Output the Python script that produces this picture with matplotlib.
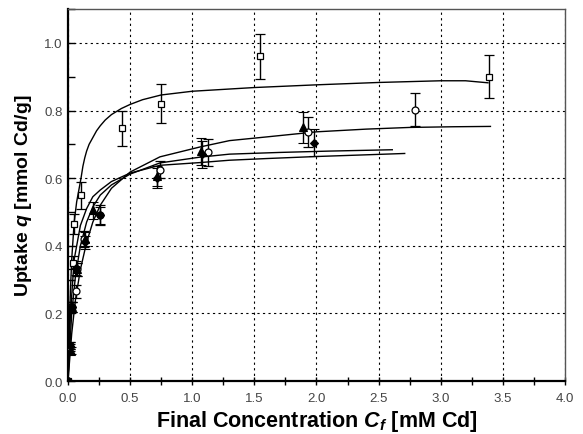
import matplotlib
matplotlib.use("Agg")
import matplotlib.pyplot as plt
from matplotlib.ticker import MultipleLocator

plt.rcParams['font.family'] = ['Liberation Sans', 'DejaVu Sans']
plt.rcParams['mathtext.fontset'] = 'custom'
plt.rcParams['mathtext.it'] = 'Liberation Sans:italic:bold'
plt.rcParams['mathtext.rm'] = 'Liberation Sans:bold'
plt.rcParams['mathtext.bf'] = 'Liberation Sans:bold'

# ---- data: measured points ----
sq_x = [0, 0.016, 0.024, 0.04, 0.048, 0.105, 0.435, 0.75, 1.546, 3.39]
sq_y = [0, 0.104, 0.22, 0.35, 0.465, 0.55, 0.747, 0.82, 0.96, 0.90]
sq_e = [0, 0.01, 0.015, 0.02, 0.03, 0.04, 0.052, 0.058, 0.067, 0.063]

ci_x = [0, 0.02, 0.035, 0.064, 0.075, 0.13, 0.26, 0.74, 1.13, 1.93, 2.79]
ci_y = [0, 0.10, 0.22, 0.265, 0.33, 0.42, 0.49, 0.625, 0.677, 0.737, 0.803]
ci_e = [0, 0.01, 0.015, 0.02, 0.02, 0.025, 0.03, 0.025, 0.04, 0.045, 0.05]

tr_x = [0, 0.025, 0.035, 0.07, 0.135, 0.2, 0.72, 1.07, 1.89]
tr_y = [0, 0.09, 0.22, 0.33, 0.42, 0.505, 0.607, 0.68, 0.75]
tr_e = [0, 0.01, 0.015, 0.02, 0.02, 0.025, 0.03, 0.04, 0.046]

di_x = [0, 0.02, 0.03, 0.065, 0.14, 0.26, 0.72, 1.08, 1.98]
di_y = [0, 0.105, 0.22, 0.335, 0.41, 0.49, 0.60, 0.67, 0.705]
di_e = [0, 0.01, 0.015, 0.02, 0.02, 0.025, 0.03, 0.04, 0.04]

# ---- data: fitted curves ----
cA_x = [0, 0.01, 0.02, 0.03, 0.05, 0.07, 0.09, 0.105, 0.12, 0.135, 0.15, 0.17,
        0.2, 0.23, 0.26, 0.3, 0.35, 0.43, 0.5, 0.6, 0.75, 1.0, 1.5, 2.0, 2.5,
        3.0, 3.2, 3.38]
cA_y = [0, 0.15, 0.27, 0.36, 0.47, 0.53, 0.57, 0.60, 0.635, 0.66, 0.68, 0.70,
        0.72, 0.74, 0.755, 0.772, 0.788, 0.806, 0.818, 0.832, 0.846, 0.857,
        0.868, 0.876, 0.883, 0.888, 0.888, 0.882]

cB_x = [0, 0.03, 0.06, 0.1, 0.15, 0.2, 0.26, 0.35, 0.5, 0.74, 1.06, 1.3, 1.6, 2.0,
        2.4, 2.75, 3.1, 3.4]
cB_y = [0, 0.14, 0.24, 0.33, 0.41, 0.47, 0.52, 0.57, 0.618, 0.663, 0.692, 0.711,
        0.722, 0.737, 0.745, 0.75, 0.752, 0.753]

cC_x = [0, 0.03, 0.06, 0.1, 0.15, 0.2, 0.26, 0.35, 0.5, 0.74, 1.06, 1.3, 1.7, 2.1, 2.61]
cC_y = [0, 0.2, 0.31, 0.40, 0.47, 0.515, 0.55, 0.58, 0.612, 0.645, 0.662, 0.671,
        0.676, 0.68, 0.684]

cD_x = [0, 0.02, 0.05, 0.1, 0.15, 0.2, 0.26, 0.35, 0.5, 0.74, 1.06, 1.3, 1.6, 2.0,
        2.4, 2.71]
cD_y = [0, 0.2, 0.36, 0.46, 0.51, 0.545, 0.565, 0.59, 0.615, 0.638, 0.646, 0.653,
        0.658, 0.664, 0.669, 0.673]

x_ticks = [0.0, 0.5, 1.0, 1.5, 2.0, 2.5, 3.0, 3.5, 4.0]
y_ticks = [0.0, 0.2, 0.4, 0.6, 0.8, 1.0]

fig = plt.figure(figsize=(5.83, 4.35), dpi=100)
ax = fig.add_axes([0.1166, 0.1218, 0.8525, 0.855])

grid_kw = dict(color='black', lw=0.8, linestyle=(0, (2, 3)))
ax.grid(True, which='major', **grid_kw)
ax.set_axisbelow(True)

for cx, cy in [(cA_x, cA_y), (cB_x, cB_y), (cC_x, cC_y), (cD_x, cD_y)]:
    ax.plot(cx, cy, color='black', lw=1.0, zorder=3)

eb_kw = dict(ecolor='black', elinewidth=1.0, capsize=3.3, capthick=1.0,
             linestyle='none', zorder=4)
ax.errorbar(sq_x, sq_y, yerr=sq_e, marker='s', ms=5, mfc='white', mec='black',
            mew=0.9, **eb_kw)
ax.errorbar(ci_x, ci_y, yerr=ci_e, marker='o', ms=5, mfc='white', mec='black',
            mew=0.9, **eb_kw)
ax.errorbar(tr_x, tr_y, yerr=tr_e, marker='^', ms=5.5, mfc='black', mec='black',
            mew=0.8, **eb_kw)
ax.errorbar(di_x, di_y, yerr=di_e, marker='D', ms=4.5, mfc='black', mec='black',
            mew=0.8, **eb_kw)

ax.set_xlim(0, 4.0)
ax.set_ylim(0, 1.1)
ax.set_xticks(x_ticks)
ax.set_yticks(y_ticks)
ax.set_xticklabels([f"{v:.1f}" for v in x_ticks])
ax.set_yticklabels([f"{v:.1f}" for v in y_ticks])
ax.xaxis.set_minor_locator(MultipleLocator(0.25))
ax.yaxis.set_minor_locator(MultipleLocator(0.1))
ax.tick_params(axis='both', which='both', labelsize=9.5, labelcolor='#444444',
               color='black', width=1.0)
ax.tick_params(axis='x', which='both', direction='inout', length=6, pad=5)
ax.tick_params(axis='y', which='both', direction='in', length=5, pad=4)

for s in ['left', 'bottom']:
    ax.spines[s].set_linewidth(1.6)
    ax.spines[s].set_color('black')
for s in ['top', 'right']:
    ax.spines[s].set_linewidth(1.0)
    ax.spines[s].set_color('#555555')

ax.set_xlabel(r"Final Concentration $C_f$ [mM Cd]", fontsize=15.5, fontweight='bold',
              labelpad=3)
ax.set_ylabel(r"Uptake $q$ [mmol Cd/g]", fontsize=14, fontweight='bold', labelpad=7)

fig.savefig("out.png", dpi=100)
